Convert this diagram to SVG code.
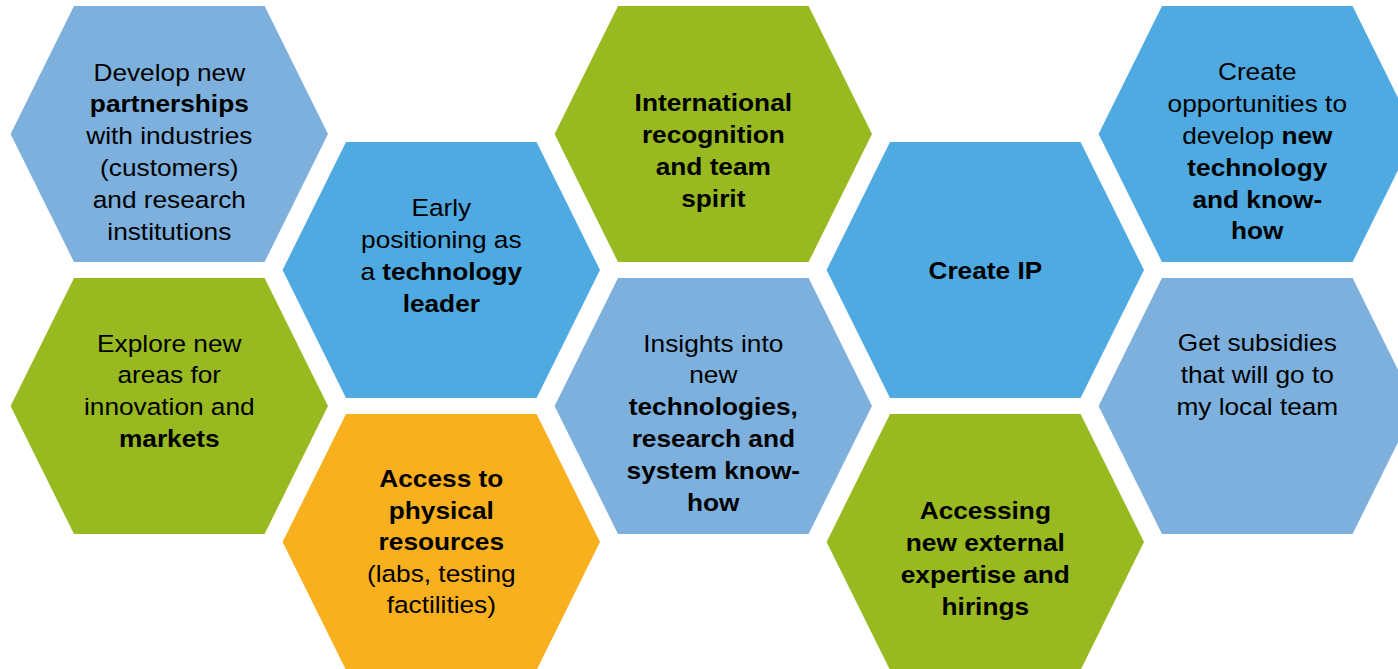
<svg xmlns="http://www.w3.org/2000/svg" xmlns:xlink="http://www.w3.org/1999/xlink" width="1398" height="669" viewBox="0 0 1398 669">
<style>
.t{font-family:"Liberation Sans",Arial,sans-serif;font-size:24.3px;fill:#000;text-anchor:middle}
.b{font-weight:bold}
.lb{fill:#7DB0DC}
.bl{fill:#4FAAE2}
.gr{fill:#98B91F}
.or{fill:#F9B01E}
</style>
<defs>
<polygon id="hex" points="-158.7,0 -95.3,-128 95.3,-128 158.7,0 95.3,128 -95.3,128"/>
</defs>
<rect width="1398" height="669" fill="#fff"/>
<g id="connectors"/>
<g id="develop">
<use xlink:href="#hex" href="#hex" class="lb" transform="translate(169.3 134)"/>
<g transform="translate(169.3 0) scale(1.08 1)"><text class="t"><tspan x="0" y="80.7">Develop new</tspan><tspan x="0" y="112.5" class="b">partnerships</tspan><tspan x="0" y="144.3">with industries</tspan><tspan x="0" y="176.1">(customers)</tspan><tspan x="0" y="207.9">and research</tspan><tspan x="0" y="239.7">institutions</tspan></text></g>
</g>
<g id="explore">
<use xlink:href="#hex" href="#hex" class="gr" transform="translate(169.3 406)"/>
<g transform="translate(169.3 0) scale(1.08 1)"><text class="t"><tspan x="0" y="351.7">Explore new</tspan><tspan x="0" y="383.5">areas for</tspan><tspan x="0" y="415.3">innovation and</tspan><tspan x="0" y="447.1" class="b">markets</tspan></text></g>
</g>
<g id="early">
<use xlink:href="#hex" href="#hex" class="bl" transform="translate(441.3 270)"/>
<g transform="translate(441.3 0) scale(1.08 1)"><text class="t"><tspan x="0" y="216.3">Early</tspan><tspan x="0" y="248.1">positioning as</tspan><tspan x="0" y="279.9">a <tspan class="b">technology</tspan></tspan><tspan x="0" y="311.7" class="b">leader</tspan></text></g>
</g>
<g id="access">
<use xlink:href="#hex" href="#hex" class="or" transform="translate(441.3 542)"/>
<g transform="translate(441.3 0) scale(1.08 1)"><text class="t"><tspan x="0" y="487.5" class="b">Access to</tspan><tspan x="0" y="519" class="b">physical</tspan><tspan x="0" y="550.5" class="b">resources</tspan><tspan x="0" y="582">(labs, testing</tspan><tspan x="0" y="613.5">factilities)</tspan></text></g>
</g>
<g id="international">
<use xlink:href="#hex" href="#hex" class="gr" transform="translate(713.3 134)"/>
<g transform="translate(713.3 0) scale(1.08 1)"><text class="t b"><tspan x="0" y="111.5">International</tspan><tspan x="0" y="143.3">recognition</tspan><tspan x="0" y="175.1">and team</tspan><tspan x="0" y="206.9">spirit</tspan></text></g>
</g>
<g id="insights">
<use xlink:href="#hex" href="#hex" class="lb" transform="translate(713.3 406)"/>
<g transform="translate(713.3 0) scale(1.08 1)"><text class="t"><tspan x="0" y="351.7">Insights into</tspan><tspan x="0" y="383.5">new</tspan><tspan x="0" y="415.3" class="b">technologies,</tspan><tspan x="0" y="447.1" class="b">research and</tspan><tspan x="0" y="478.9" class="b">system know-</tspan><tspan x="0" y="510.7" class="b">how</tspan></text></g>
</g>
<g id="create-ip">
<use xlink:href="#hex" href="#hex" class="bl" transform="translate(985.3 270)"/>
<g transform="translate(985.3 0) scale(1.08 1)"><text class="t b"><tspan x="0" y="279.5">Create IP</tspan></text></g>
</g>
<g id="accessing">
<use xlink:href="#hex" href="#hex" class="gr" transform="translate(985.3 542)"/>
<g transform="translate(985.3 0) scale(1.08 1)"><text class="t b"><tspan x="0" y="519">Accessing</tspan><tspan x="0" y="551">new external</tspan><tspan x="0" y="583">expertise and</tspan><tspan x="0" y="615">hirings</tspan></text></g>
</g>
<g id="create-opportunities">
<use xlink:href="#hex" href="#hex" class="bl" transform="translate(1257.3 134)"/>
<g transform="translate(1257.3 0) scale(1.08 1)"><text class="t"><tspan x="0" y="80">Create</tspan><tspan x="0" y="111.9">opportunities to</tspan><tspan x="0" y="143.8">develop <tspan class="b">new</tspan></tspan><tspan x="0" y="175.7" class="b">technology</tspan><tspan x="0" y="207.6" class="b">and know-</tspan><tspan x="0" y="239.5" class="b">how</tspan></text></g>
</g>
<g id="subsidies">
<use xlink:href="#hex" href="#hex" class="lb" transform="translate(1257.3 406)"/>
<g transform="translate(1257.3 0) scale(1.08 1)"><text class="t"><tspan x="0" y="351.5">Get subsidies</tspan><tspan x="0" y="383.3">that will go to</tspan><tspan x="0" y="415.1">my local team</tspan></text></g>
</g>
</svg>
